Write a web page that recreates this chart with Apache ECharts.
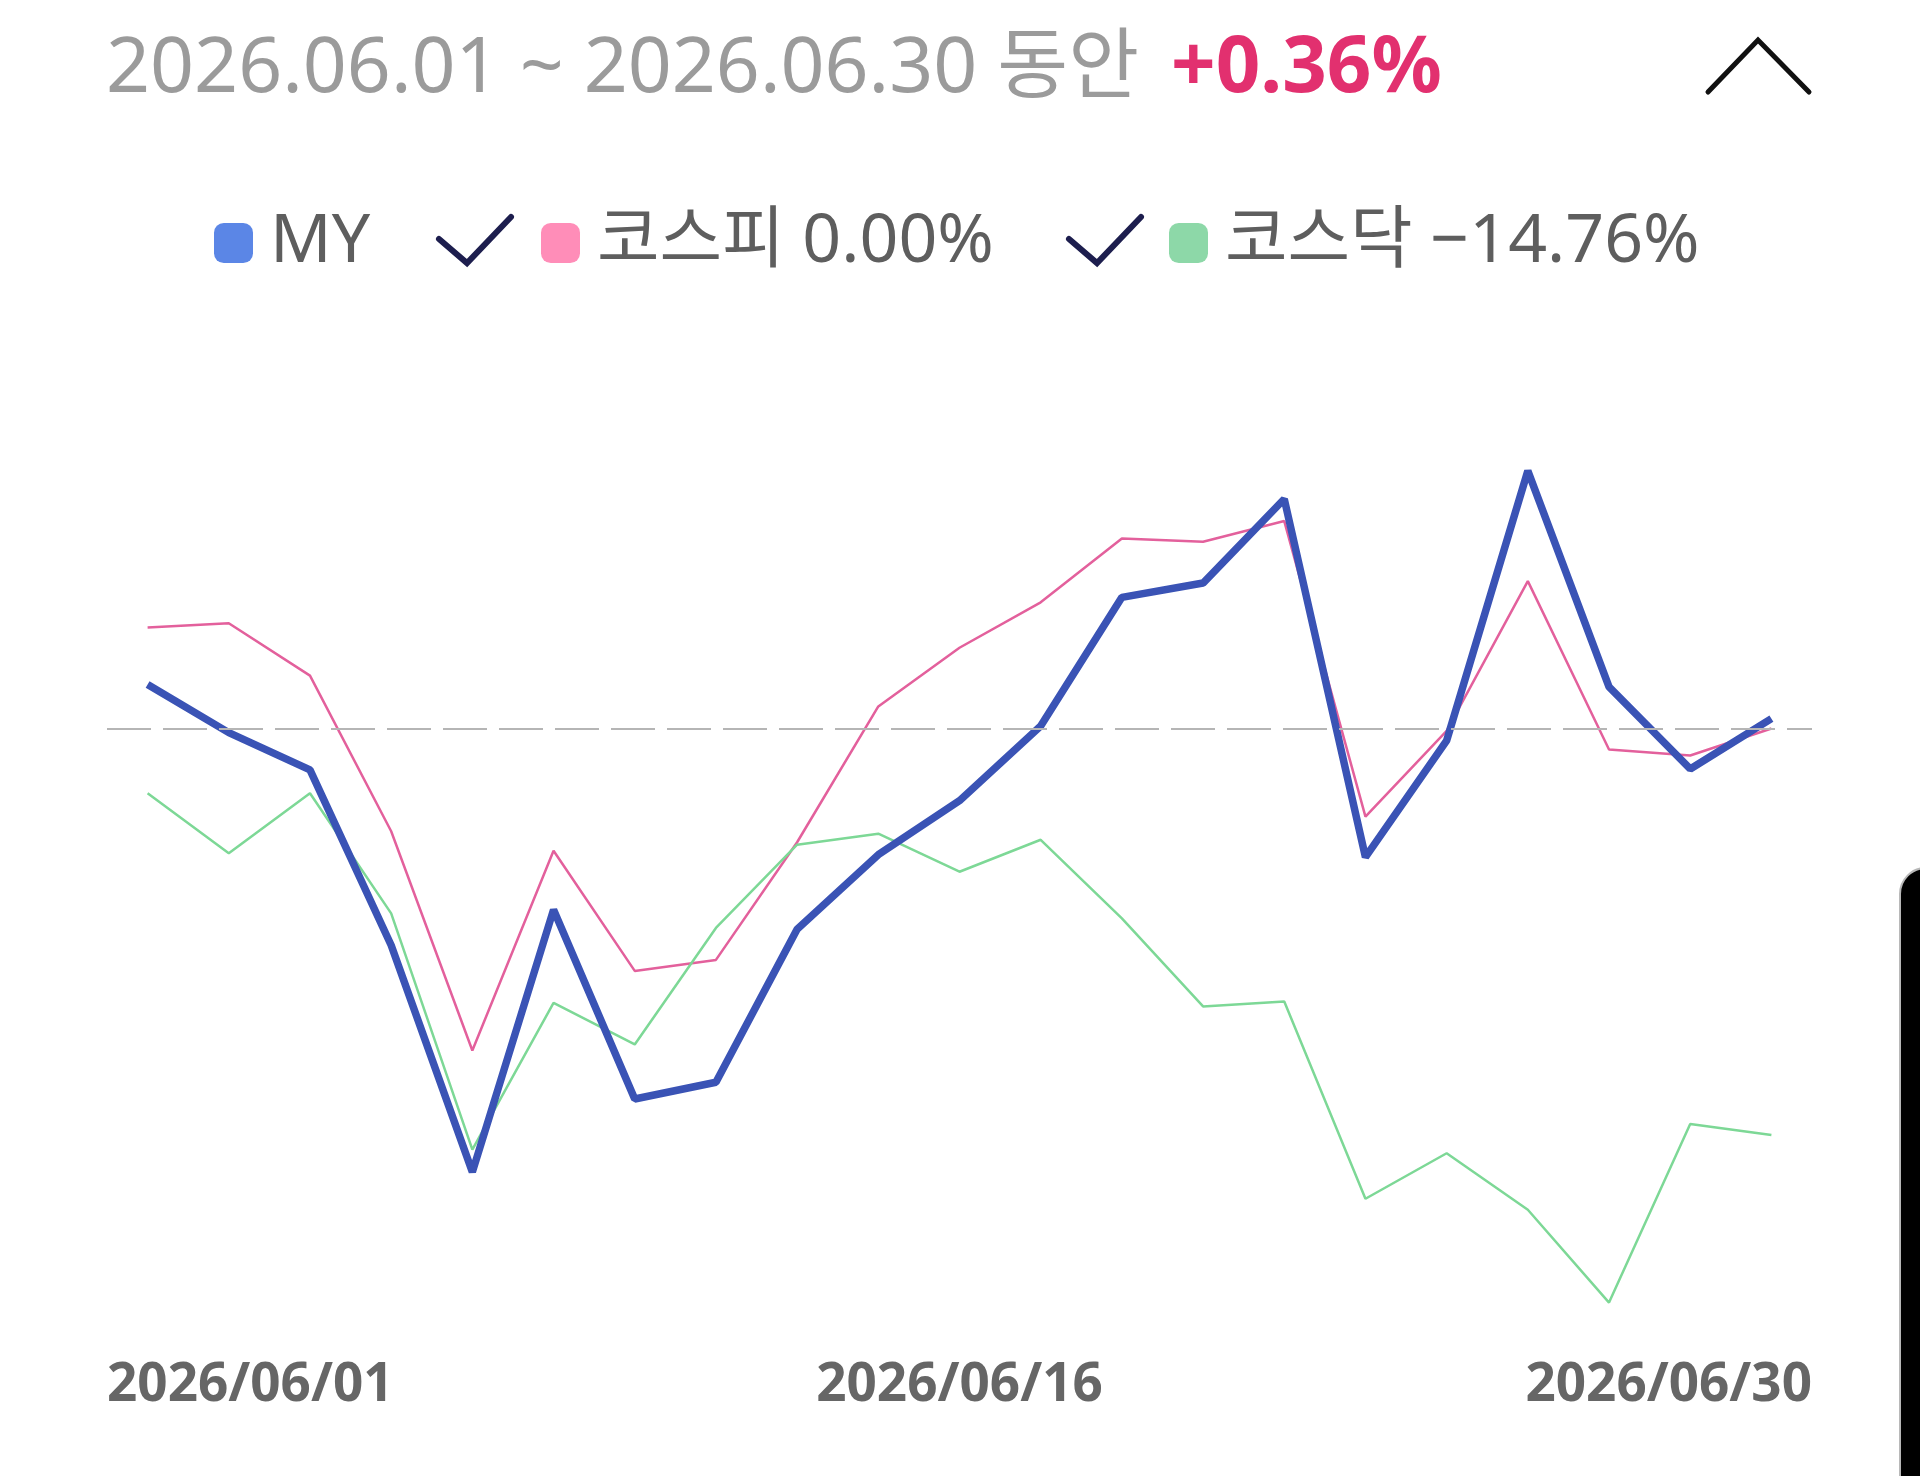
<!DOCTYPE html>
<html>
<head>
<meta charset="utf-8">
<script src="https://cdn.jsdelivr.net/npm/echarts@6/dist/echarts.min.js"></script>
<style>
html,body{margin:0;padding:0;background:#fff;}
#chart{width:1920px;height:1476px;}
</style>
</head>
<body>
<div id="chart"></div>
<script>
// ---- data ----
const categories = ['2026/06/01','2026/06/02','2026/06/04','2026/06/05','2026/06/08','2026/06/09','2026/06/10',
  '2026/06/11','2026/06/12','2026/06/15','2026/06/16','2026/06/17','2026/06/18','2026/06/19','2026/06/22',
  '2026/06/23','2026/06/24','2026/06/25','2026/06/26','2026/06/29','2026/06/30'];
const axisTickLabels = ['2026/06/01','2026/06/16','2026/06/30'];
const seriesNames = ['MY','코스피','코스닥'];
const legendReturns = ['', '0.00%', '−14.76%'];
const periodText = '2026.06.01 ~ 2026.06.30 동안';
const periodReturn = '+0.36%';
const myReturns = [1.6, -0.15, -1.5, -7.87, -16.1, -6.58, -13.45, -12.84, -7.29, -4.58, -2.62, 0.09, 4.76, 5.28, 8.33, -4.67, -0.44, 9.35, 1.51, -1.47, 0.36];
const kospiReturns = [3.67, 3.82, 1.92, -3.73, -11.69, -4.44, -8.8, -8.4, -4.13, 0.8, 2.93, 4.58, 6.9, 6.78, 7.53, -3.2, -0.09, 5.35, -0.76, -0.98, 0];
const kosdaqReturns = [-2.35, -4.53, -2.35, -6.71, -15.29, -9.96, -11.47, -7.24, -4.22, -3.82, -5.2, -4.04, -6.89, -10.09, -9.91, -17.07, -15.42, -17.47, -20.84, -14.36, -14.76];

const FONT = "'Noto Sans', 'Noto Sans CJK KR', sans-serif";
const lineColors = ['#3a53b5', '#e3609c', '#7dd896'];
const iconColors = ['#5b86e6', '#ff8db8', '#8dd8a8'];
const legendLefts = [214, 541, 1169];

const chart = echarts.init(document.getElementById('chart'), null, {renderer: 'canvas'});

const legends = seriesNames.map((n, i) => ({
  data: [{name: n, itemStyle: {color: iconColors[i]}}],
  left: legendLefts[i],
  top: 209,
  padding: 0,
  icon: 'roundRect',
  itemWidth: 39,
  itemHeight: 40,
  selectedMode: false,
  formatter: (name) => legendReturns[i] ? name + ' ' + legendReturns[i] : name,
  textStyle: {fontFamily: FONT, fontSize: 68, color: '#5e5e5e', padding: [0, 0, 0, 12]}
}));

const option = {
  animation: false,
  backgroundColor: '#ffffff',
  legend: legends,
  grid: {left: 107, right: 108, top: 453, height: 854, containLabel: false},
  xAxis: [
    {
      type: 'category', data: categories, boundaryGap: true,
      axisLine: {show: false}, axisTick: {show: false}, axisLabel: {show: false}, splitLine: {show: false}
    },
    {
      type: 'category', data: axisTickLabels, boundaryGap: false, position: 'bottom',
      axisLine: {show: false}, axisTick: {show: false}, splitLine: {show: false},
      axisLabel: {
        show: true, interval: 0, margin: 52,
        alignMinLabel: 'left', alignMaxLabel: 'right',
        fontFamily: FONT, fontSize: 53, fontWeight: 'bold', color: '#666666'
      }
    }
  ],
  yAxis: {
    type: 'value', min: -21, max: 10, show: false, splitLine: {show: false}
  },
  series: [
    {name: seriesNames[0], type: 'line', data: myReturns, symbol: 'none', z: 4,
      lineStyle: {color: lineColors[0], width: 7.5}, itemStyle: {color: lineColors[0]}},
    {name: seriesNames[1], type: 'line', data: kospiReturns, symbol: 'none', z: 3,
      lineStyle: {color: lineColors[1], width: 2.5}, itemStyle: {color: lineColors[1]}},
    {name: seriesNames[2], type: 'line', data: kosdaqReturns, symbol: 'none', z: 3,
      lineStyle: {color: lineColors[2], width: 2.5}, itemStyle: {color: lineColors[2]},
      markLine: {
        silent: true, symbol: 'none', z: 10,
        label: {show: false},
        lineStyle: {color: '#b5b5b5', width: 2, type: [44, 12]},
        data: [{yAxis: 0}]
      }}
  ],
  graphic: [
    {
      type: 'text', left: 106, top: 31,
      style: {
        text: '{a|' + periodText + ' }{b|' + periodReturn + '}',
        rich: {
          a: {fontFamily: FONT, fontSize: 77, fill: '#9b9b9b'},
          b: {fontFamily: FONT, fontSize: 78, fontWeight: 'bold', fill: '#e2306f', padding: [0, 0, 0, 12]}
        }
      }
    },
    {
      type: 'polyline',
      shape: {points: [[1708, 92], [1758, 40], [1809, 92]]},
      style: {stroke: '#111111', lineWidth: 5, fill: null, lineCap: 'round', lineJoin: 'miter'}
    },
    {
      type: 'polyline',
      shape: {points: [[439, 239], [467, 263], [511, 217]]},
      style: {stroke: '#1d1e4e', lineWidth: 6, fill: null, lineCap: 'round', lineJoin: 'miter'}
    },
    {
      type: 'polyline',
      shape: {points: [[1069, 239], [1097, 263], [1141, 217]]},
      style: {stroke: '#1d1e4e', lineWidth: 6, fill: null, lineCap: 'round', lineJoin: 'miter'}
    },
    {
      type: 'rect',
      shape: {x: 1900, y: 868, width: 60, height: 700, r: 26},
      style: {fill: '#000000', stroke: '#b8b8b8', lineWidth: 2}
    }
  ]
};
chart.setOption(option);
</script>
</body>
</html>
